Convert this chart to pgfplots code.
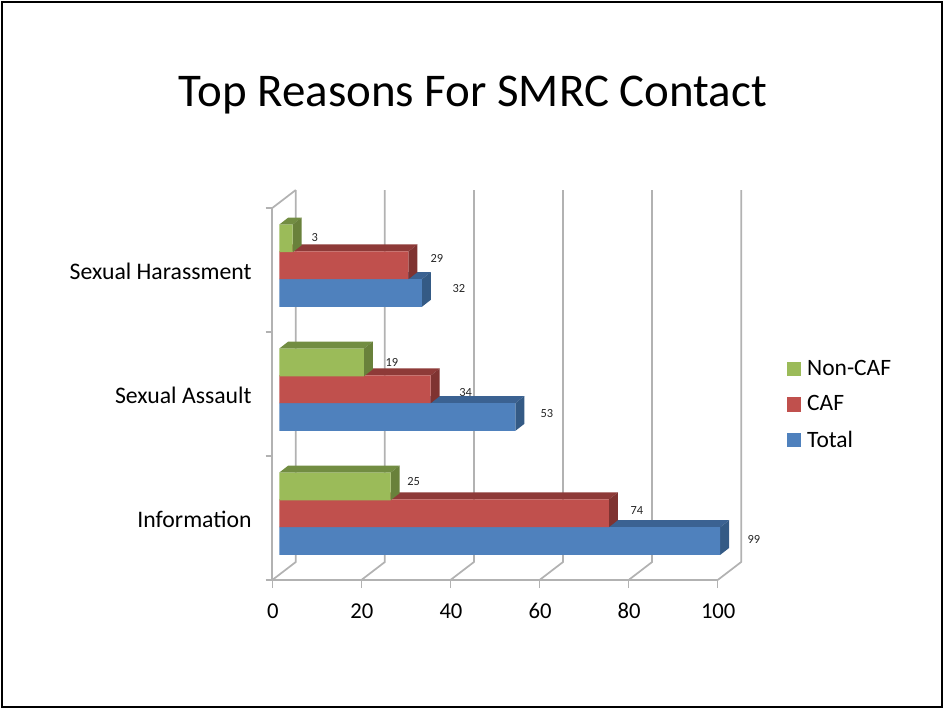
\documentclass[border=0pt]{standalone}
\usepackage{fontspec}
\setmainfont{Carlito}
\usepackage{pgfplots}
\pgfplotsset{compat=1.18}

\definecolor{barblue}{HTML}{4F81BD}
\definecolor{blueside}{HTML}{345A85}
\definecolor{bluetop}{HTML}{3B6292}
\definecolor{barred}{HTML}{C0504D}
\definecolor{redside}{HTML}{7F3331}
\definecolor{redtop}{HTML}{8E3A38}
\definecolor{bargreen}{HTML}{9BBB59}
\definecolor{greenside}{HTML}{69813B}
\definecolor{greentop}{HTML}{728D42}
\definecolor{axisgray}{HTML}{B2B2B2}

% 1 px of the reference = 0.75pt
\newcommand{\wall}[1]{%
  \pgfmathsetmacro{\xb}{#1+5.27}%
  \addplot[axisgray,line width=1.3pt,forget plot] coordinates {(#1,0) (\xb,0.145) (\xb,3.145)};%
}
% top and side of a bar: centre, value, top colour, side colour
\newcommand{\depth}[4]{%
  \pgfmathsetmacro{\yb}{#1-0.1117}%
  \pgfmathsetmacro{\yt}{#1+0.1117}%
  \pgfmathsetmacro{\ybb}{\yb+0.0565}%
  \pgfmathsetmacro{\ytt}{\yt+0.0565}%
  \pgfmathsetmacro{\xx}{#2+2.02}%
  \addplot[fill=#3,draw=none,forget plot,xshift=5.25pt] coordinates {(0,\yt) (#2,\yt) (\xx,\ytt) (2.02,\ytt)} -- cycle;%
  \addplot[fill=#4,draw=none,forget plot,xshift=5.25pt] coordinates {(#2,\yb) (\xx,\ybb) (\xx,\ytt) (#2,\yt)} -- cycle;%
}

\pgfplotsset{
  frontbar/.style={
    xbar, bar shift=0pt, bar width=20.8pt, draw=none, forget plot, xshift=5.25pt,
    point meta=x,
    visualization depends on=\thisrow{dx} \as \dxv,
    visualization depends on=\thisrow{dy} \as \dyv,
    nodes near coords,
    every node near coord/.append style={
      anchor=center, font=\fontsize{9.3}{9.3}\selectfont, text=black!85,
      xshift=\dxv*0.75pt, yshift=\dyv*0.75pt},
  },
}

\begin{document}
\begin{tikzpicture}
\begin{axis}[
  scale only axis, width=334.05pt, height=279pt,
  xmin=0, xmax=100, ymin=0, ymax=3,
  clip=false,
  axis lines=left,
  axis line style={-,axisgray,line width=1.3pt},
  tick style={axisgray,line width=0.9pt},
  tick align=outside,
  /pgf/number format/assume math mode=true,
  xtick={0,20,...,100},
  major tick length=6pt,
  xticklabel style={yshift=-8pt,xshift=0.4pt,font=\fontsize{17}{17}\selectfont},
  ytick={0.5,1.5,2.5},
  yticklabels={Information,Sexual Assault,Sexual Harassment},
  major y tick style={draw=none},
  minor y tick style={axisgray,line width=0.9pt},
  yticklabel style={xshift=-6pt,yshift=-0.7pt,font=\fontsize{17.8}{17.8}\selectfont},
  minor ytick={0,1,2,3},
  minor tick length=5pt,
  legend cell align=left,
  legend style={draw=none, fill=none, at={(1.155,0.471)}, anchor=west, inner sep=0pt,
    font=\fontsize{17.6}{17.6}\selectfont, row sep=9.5pt,
    /tikz/every odd column/.append style={column sep=3pt}},
]
\addlegendimage{legend image code/.code={\fill[bargreen] (0,-4.9pt) rectangle (9.75pt,4.9pt);}}
\addlegendimage{legend image code/.code={\fill[barred] (0,-4.9pt) rectangle (9.75pt,4.9pt);}}
\addlegendimage{legend image code/.code={\fill[barblue] (0,-4.9pt) rectangle (9.75pt,4.9pt);}}
\addlegendentry{Non-CAF}
\addlegendentry{CAF}
\addlegendentry{Total}

% back walls and floor
\wall{0}\wall{20}\wall{40}\wall{60}\wall{80}\wall{100}
\addplot[axisgray,line width=1.3pt,forget plot] coordinates {(0,3) (5.27,3.145)};

% Total
\depth{0.3145}{99}{bluetop}{blueside}
\depth{1.3145}{53}{bluetop}{blueside}
\depth{2.3145}{32}{bluetop}{blueside}
\addplot[frontbar,fill=barblue] table[x=v,y=y] {
y v dx dy
0.3145 99 33.7 2
1.3145 53 31.6 3.5
2.3145 32 37 4.5
};
% CAF
\depth{0.538}{74}{redtop}{redside}
\depth{1.538}{34}{redtop}{redside}
\depth{2.538}{29}{redtop}{redside}
\addplot[frontbar,fill=barred] table[x=v,y=y] {
y v dx dy
0.538 74 28 3
1.538 34 35 -3
2.538 29 28.5 7
};
% Non-CAF
\depth{0.755}{25}{greentop}{greenside}
\depth{1.755}{19}{greentop}{greenside}
\depth{2.755}{3}{greentop}{greenside}
\addplot[frontbar,fill=bargreen] table[x=v,y=y] {
y v dx dy
0.755 25 23 5
1.755 19 28 0
2.755 3 22 1
};
\end{axis}
% slide furniture, in reference pixels
\begin{scope}[x=0.75pt,y=-0.75pt,shift={(-272.3,-580)}]
  \path[use as bounding box] (0,0) rectangle (943,708);
  \draw[line width=1.9pt] (2,708) -- (2,1.8) -- (943,1.8);
  \draw[line width=1.1pt] (942.2,1.8) -- (942.2,707.2) -- (2,707.2);
  \node[font=\fontsize{35.2}{35.2}\selectfont] at (473,95) {Top Reasons For SMRC Contact};
\end{scope}
\end{tikzpicture}
\end{document}
